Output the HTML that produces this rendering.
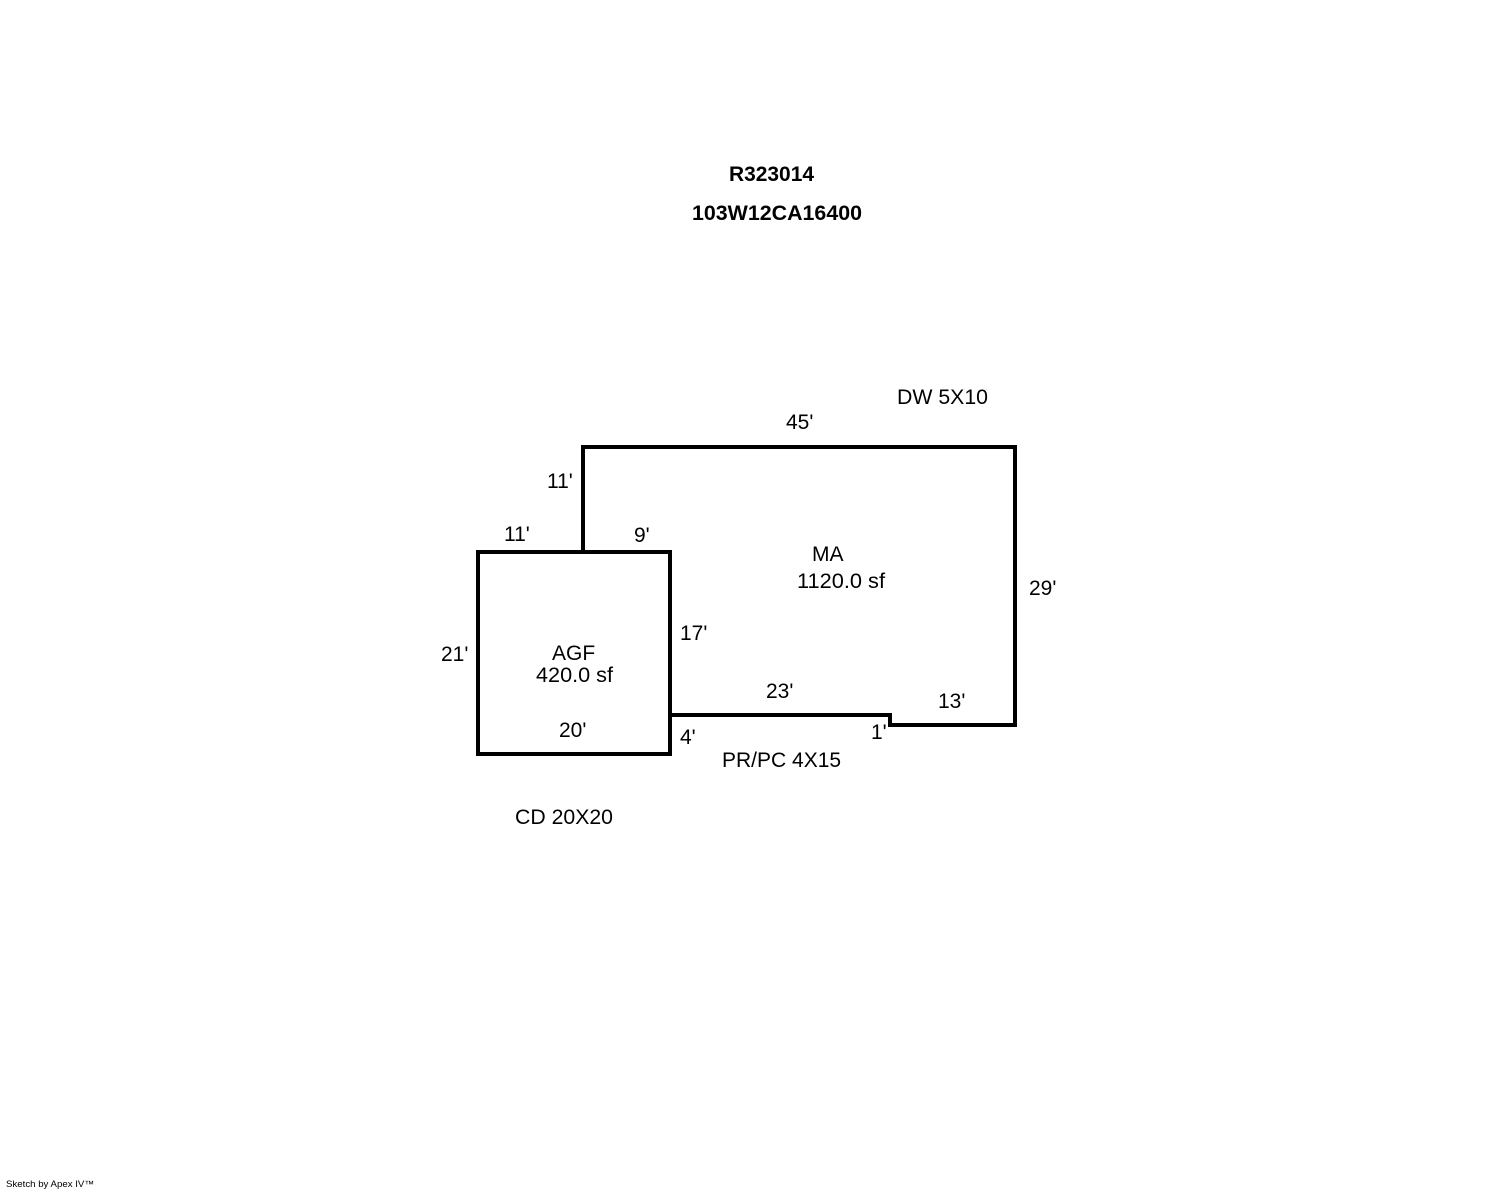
<!DOCTYPE html>
<html>
<head>
<meta charset="utf-8">
<style>
html,body{margin:0;padding:0;background:#fff;}
svg{display:block;}
text{font-family:"Liberation Sans",Arial,sans-serif;font-size:21px;fill:#000;}
.b{font-weight:bold;}
.s{font-size:9px;}
</style>
</head>
<body>
<svg width="1488" height="1190" viewBox="0 0 1488 1190" xmlns="http://www.w3.org/2000/svg">
<rect width="1488" height="1190" fill="#fff"/>
<g fill="none" stroke="#000" stroke-width="4" stroke-linejoin="miter" stroke-linecap="square" shape-rendering="crispEdges">
<path d="M478 552H670V754H478Z"/>
<path d="M583 552V447H1015V725H890V715H670"/>
</g>
<text class="b" x="729" y="181" textLength="85" lengthAdjust="spacingAndGlyphs">R323014</text>
<text class="b" x="692" y="220" textLength="170" lengthAdjust="spacingAndGlyphs">103W12CA16400</text>
<text x="897" y="404" textLength="91" lengthAdjust="spacingAndGlyphs">DW 5X10</text>
<text x="786" y="429">45'</text>
<text x="547" y="488">11'</text>
<text x="504" y="541">11'</text>
<text x="634" y="542">9'</text>
<text x="812" y="561">MA</text>
<text x="797" y="588" textLength="88" lengthAdjust="spacingAndGlyphs">1120.0 sf</text>
<text x="1029" y="595">29'</text>
<text x="680" y="640">17'</text>
<text x="441" y="661">21'</text>
<text x="552" y="660">AGF</text>
<text x="536" y="682" textLength="77" lengthAdjust="spacingAndGlyphs">420.0 sf</text>
<text x="766" y="698">23'</text>
<text x="938" y="708">13'</text>
<text x="559" y="737">20'</text>
<text x="871" y="739">1'</text>
<text x="680" y="744">4'</text>
<text x="722" y="767">PR/PC 4X15</text>
<text x="515" y="824" textLength="98" lengthAdjust="spacingAndGlyphs">CD 20X20</text>
<text class="s" x="6" y="1187" textLength="88" lengthAdjust="spacingAndGlyphs">Sketch by Apex IV™</text>
</svg>
</body>
</html>
